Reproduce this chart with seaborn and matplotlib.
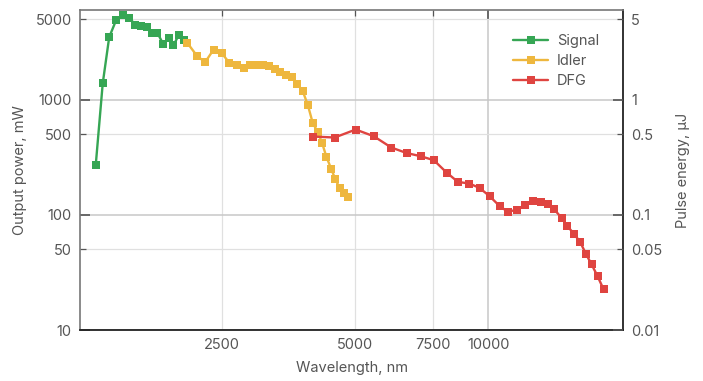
import matplotlib
matplotlib.use("Agg")
import matplotlib.pyplot as plt
import matplotlib.ticker as mticker
import seaborn as sns
import pandas as pd

# wavelength (nm) / output power (mW)
signal_wl = [1297, 1345, 1391, 1441, 1492, 1545, 1592, 1642, 1691, 1736, 1787,
             1844, 1897, 1943, 1998, 2054]
signal_pw = [271, 1384, 3487, 4864, 5453, 5135, 4467, 4315, 4260, 3807, 3807,
             3013, 3444, 2954, 3656, 3266]

idler_wl = [2090, 2201, 2292, 2393, 2497, 2597, 2703, 2798, 2897, 3000, 3095,
            3187, 3289, 3388, 3495, 3600, 3695, 3805, 3906, 4009, 4115, 4209,
            4305, 4411, 4510, 4612, 4710, 4808]
idler_pw = [3094, 2371, 2120, 2712, 2536, 2092, 1982, 1879, 1982, 2010, 2000,
            1944, 1856, 1735, 1624, 1571, 1376, 1187, 905, 627, 524, 421,
            318, 252, 203, 171, 156, 143]

dfg_wl = [4017, 4494, 5013, 5507, 6031, 6530, 7022, 7526, 8040, 8531, 9052,
          9549, 10062, 10600, 11070, 11580, 12070, 12610, 13120, 13630, 14070,
          14620, 15080, 15610, 16100, 16610, 17090, 17630, 18190]
dfg_pw = [478, 469, 550, 481, 384, 344, 323, 298, 233, 193, 187,
          171, 145, 119, 106, 111, 121, 131, 130, 124, 112,
          94, 79.8, 68, 58.3, 45.6, 37.2, 29.4, 22.6]

series_names = ["Signal", "Idler", "DFG"]
colors = ["#36a654", "#eeb73e", "#df4440"]

df = pd.concat([
    pd.DataFrame({"wl": signal_wl, "pw": signal_pw, "series": "Signal"}),
    pd.DataFrame({"wl": idler_wl, "pw": idler_pw, "series": "Idler"}),
    pd.DataFrame({"wl": dfg_wl, "pw": dfg_pw, "series": "DFG"}),
])

sns.set_style("white")
plt.rcParams["font.family"] = ["Inter", "DejaVu Sans"]
txt = "#555555"

fig = plt.figure(figsize=(7.03, 3.81), dpi=100)
ax = fig.add_axes([80 / 703, 1 - 330 / 381, 543 / 703, 320 / 381])

sns.lineplot(data=df, x="wl", y="pw", hue="series", hue_order=series_names,
             palette=colors, marker="s", markersize=5.5, markeredgewidth=0,
             linewidth=1.7, sort=False, estimator=None, ax=ax)

ax.set_xscale("log")
ax.set_yscale("log")
ax.set_xlim(1195, 20130)
ax.set_ylim(10, 6000)

# decades get darker grid lines and longer ticks
ax.xaxis.set_major_locator(mticker.FixedLocator([10000]))
ax.xaxis.set_minor_locator(mticker.FixedLocator([2500, 5000, 7500]))
ax.xaxis.set_major_formatter(mticker.FixedFormatter(["10000"]))
ax.xaxis.set_minor_formatter(mticker.FixedFormatter(["2500", "5000", "7500"]))
ax.yaxis.set_major_locator(mticker.FixedLocator([10, 100, 1000]))
ax.yaxis.set_minor_locator(mticker.FixedLocator([50, 500, 5000]))
ax.yaxis.set_major_formatter(mticker.FixedFormatter(["10", "100", "1000"]))
ax.yaxis.set_minor_formatter(mticker.FixedFormatter(["50", "500", "5000"]))

ax.grid(True, which="major", color="#c8c8c8", linewidth=1.1)
ax.grid(True, which="minor", color="#e0e0e0", linewidth=0.9)
ax.set_axisbelow(True)

ax.tick_params(which="both", direction="in", top=True, labelsize=10.5,
               labelcolor=txt, color="#555555", pad=6)
ax.tick_params(which="major", length=7, width=1.2)
ax.tick_params(which="minor", length=4, width=0.9)

ax.set_xlabel("Wavelength, nm", fontsize=10.5, color=txt, labelpad=6)
ax.set_ylabel("Output power, mW", fontsize=10.5, color=txt, labelpad=6)

for side in ["left", "top"]:
    ax.spines[side].set_color("#777777")
    ax.spines[side].set_linewidth(1.2)
for side in ["bottom", "right"]:
    ax.spines[side].set_color("#222222")
    ax.spines[side].set_linewidth(1.3)

ax2 = ax.twinx()
ax2.set_yscale("log")
ax2.set_ylim(0.01, 6)
ax2.yaxis.set_major_locator(mticker.FixedLocator([0.01, 0.1, 1]))
ax2.yaxis.set_minor_locator(mticker.FixedLocator([0.05, 0.5, 5]))
ax2.yaxis.set_major_formatter(mticker.FixedFormatter(["0.01", "0.1", "1"]))
ax2.yaxis.set_minor_formatter(mticker.FixedFormatter(["0.05", "0.5", "5"]))
ax2.tick_params(which="both", direction="in", labelsize=10.5, labelcolor=txt,
                color="#555555", pad=6)
ax2.tick_params(which="major", length=7, width=1.2)
ax2.tick_params(which="minor", length=4, width=0.9)
ax2.set_ylabel("Pulse energy, µJ", fontsize=10.5, color=txt, labelpad=10)
for s in ax2.spines.values():
    s.set_visible(False)

handles, labels = ax.get_legend_handles_labels()
ax.legend(handles, labels, loc="upper left", bbox_to_anchor=(0.774, 0.966),
          frameon=False, fontsize=10.5, labelcolor=txt, handlelength=2.4,
          labelspacing=0.4, handletextpad=0.6)

fig.savefig("out.png", dpi=100)
